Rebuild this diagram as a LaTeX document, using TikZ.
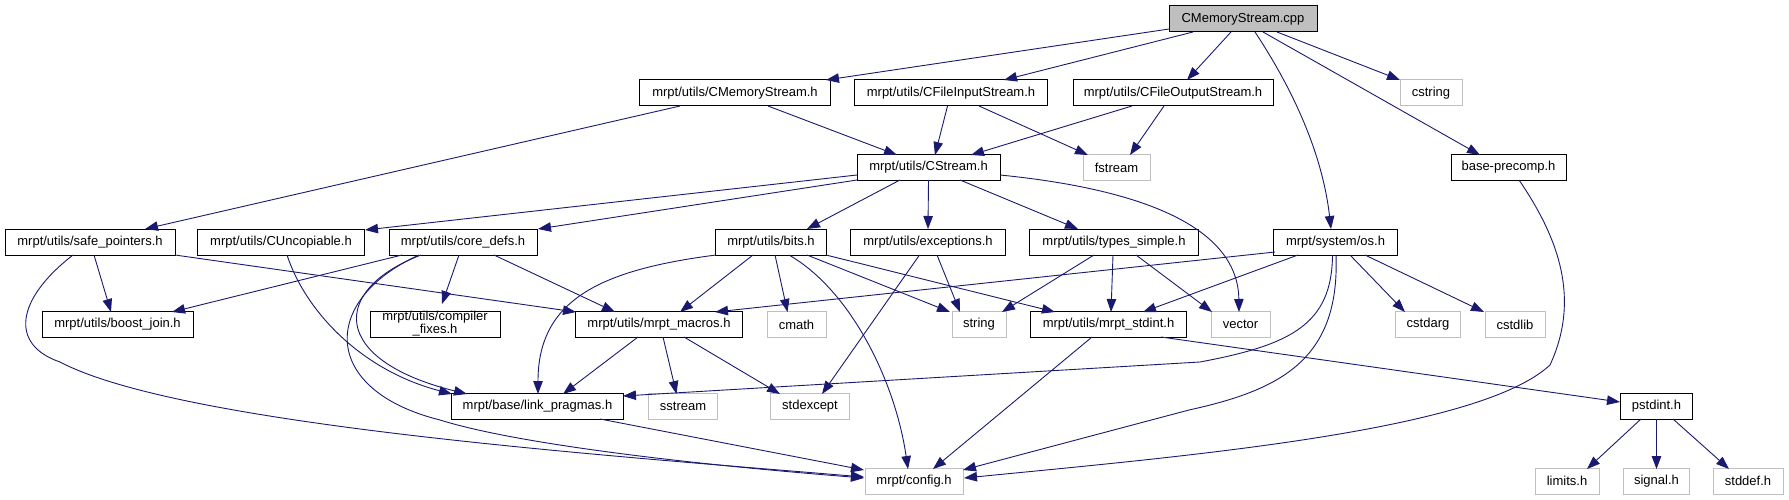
\documentclass[tikz,border=0pt]{standalone}
\usepackage{fontspec}
\setmainfont{Liberation Sans}
\usepackage{tikz}
\usetikzlibrary{arrows.meta,calc}
\usepackage{xcolor}
\definecolor{edge-blue}{HTML}{191970}
\definecolor{box-gray}{HTML}{BFBFBF}
\tikzstyle{hbox}=[draw=black, line width=1pt, inner sep=0pt, minimum height=26pt, align=center, font=\fontsize{13}{13}\selectfont]
\tikzstyle{sysbox}=[hbox, draw=box-gray]
\tikzstyle{rootbox}=[hbox, fill=box-gray]
\tikzstyle{incl}=[draw=edge-blue, line width=0.9pt, -{Triangle[length=13pt,width=9.5pt]}]
\newcommand{\hfile}[6]{
	\node[#1, minimum width=#5pt] (#2) at (#3,#4) {#6};
}
\newcommand{\depline}[4]{
	\draw[incl] ($(#1)+(#2)$) -- ($(#3)+(#4)$);
}

\begin{document}
\begin{tikzpicture}[x=1pt,y=-1pt]
	\useasboundingbox (0,0) rectangle (1789,500);
	\hfile{rootbox}{cpp}{1243}{19}{148}{CMemoryStream.cpp}
	\hfile{hbox}{memh}{735}{93}{191}{mrpt/utils/CMemoryStream.h}
	\hfile{hbox}{finh}{951}{93}{193}{mrpt/utils/CFileInputStream.h}
	\hfile{hbox}{fouth}{1173}{93}{200}{mrpt/utils/CFileOutputStream.h}
	\hfile{sysbox}{cstring}{1431}{93}{62}{cstring}
	\hfile{hbox}{stream}{928.5}{167.5}{143}{mrpt/utils/CStream.h}
	\hfile{sysbox}{fstream}{1116.5}{167.5}{67}{fstream}
	\hfile{hbox}{precomp}{1508.5}{167.5}{115}{base-precomp.h}
	\hfile{hbox}{safeptr}{90}{242}{170}{mrpt/utils/safe\_pointers.h}
	\hfile{hbox}{uncop}{281}{242}{167}{mrpt/utils/CUncopiable.h}
	\hfile{hbox}{coredefs}{463}{242}{148}{mrpt/utils/core\_defs.h}
	\hfile{hbox}{bits}{771}{242}{111}{mrpt/utils/bits.h}
	\hfile{hbox}{exc}{928}{242}{155}{mrpt/utils/exceptions.h}
	\hfile{hbox}{types}{1114}{242}{169}{mrpt/utils/types\_simple.h}
	\hfile{hbox}{os}{1335.5}{242}{124}{mrpt/system/os.h}
	\hfile{hbox}{boost}{117.5}{324.5}{151}{mrpt/utils/boost\_join.h}
	\hfile{hbox}{compfix}{435}{324}{130}{mrpt/utils/compiler\\\_fixes.h}
	\hfile{hbox}{macros}{659}{324.5}{167}{mrpt/utils/mrpt\_macros.h}
	\hfile{sysbox}{cmath}{796.5}{324.5}{59}{cmath}
	\hfile{sysbox}{string}{979}{324.5}{54}{string}
	\hfile{hbox}{stdint}{1108.5}{324.5}{156}{mrpt/utils/mrpt\_stdint.h}
	\hfile{sysbox}{vector}{1240.5}{324.5}{59}{vector}
	\hfile{sysbox}{cstdarg}{1428}{324.5}{65}{cstdarg}
	\hfile{sysbox}{cstdlib}{1515}{324.5}{60}{cstdlib}
	\hfile{hbox}{linkp}{537.5}{406.5}{172}{mrpt/base/link\_pragmas.h}
	\hfile{sysbox}{sstream}{683}{406.5}{69}{sstream}
	\hfile{sysbox}{stdexc}{810}{406.5}{79}{stdexcept}
	\hfile{hbox}{pstdint}{1656.5}{406.5}{72}{pstdint.h}
	\hfile{sysbox}{config}{914}{481}{98}{mrpt/config.h}
	\hfile{sysbox}{limits}{1567}{481}{64}{limits.h}
	\hfile{sysbox}{signal}{1656.5}{481}{66}{signal.h}
	\hfile{sysbox}{stddef}{1748}{481}{70}{stddef.h}
	\depline{cpp}{-74,10}{memh}{91,-13}
	\depline{cpp}{-50,13}{finh}{53,-13}
	\depline{cpp}{-12,13}{fouth}{14,-13}
	\depline{cpp}{34,13}{cstring}{-31,-13}
	\depline{cpp}{20,13}{precomp}{-28.5,-12.5}
	\draw[incl] ($(cpp)+(12,13)$) .. controls (1290,85) and (1322,150) .. ($(os)+(-4.5,-13)$);
	\depline{memh}{-55,13}{safeptr}{55,-13}
	\depline{memh}{33,13}{stream}{-31.5,-12.5}
	\depline{finh}{-3.5,13}{stream}{6.5,-12.5}
	\depline{finh}{28,13}{fstream}{-28.5,-12.5}
	\depline{fouth}{-41,13}{stream}{42.5,-12.5}
	\depline{fouth}{-9,13}{fstream}{13.5,-12.5}
	\draw[incl] ($(precomp)+(10.5,12.5)$) .. controls (1560,240) and (1580,300) .. (1550,365) .. controls (1480,430) and (1200,455) .. ($(config)+(50,-3)$);
	\depline{stream}{-71.5,7.5}{uncop}{84,-12}
	\depline{stream}{-71.5,12.5}{coredefs}{75,-13}
	\depline{stream}{-28.5,12.5}{bits}{36,-13}
	\depline{stream}{0,12.5}{exc}{0,-13}
	\depline{stream}{31.5,12.5}{types}{-36,-13}
	\draw[incl] ($(stream)+(71.5,7.5)$) .. controls (1150,190) and (1238,230) .. ($(vector)+(-1.5,-12.5)$);
	\depline{safeptr}{4,13}{boost}{-6.5,-12.5}
	\depline{safeptr}{85,13}{macros}{-83,-12.5}
	\draw[incl] ($(safeptr)+(-17,13)$) .. controls (15,300) and (10,345) .. (60,362) .. controls (180,425) and (600,455) .. ($(config)+(-50,-4)$);
	\draw[incl] ($(uncop)+(6,13)$) .. controls (305,310) and (360,370) .. ($(linkp)+(-85.5,-12.5)$);
	\depline{coredefs}{-61,13}{boost}{54.5,-12.5}
	\depline{coredefs}{-4,13}{compfix}{7,-20}
	\depline{coredefs}{31,13}{macros}{-44,-12.5}
	\draw[incl] ($(coredefs)+(-42,13)$) .. controls (330,290) and (330,360) .. ($(linkp)+(-70.5,-12.5)$);
	\draw[incl] ($(coredefs)+(-44,13)$) .. controls (320,300) and (320,390) .. (440,420) .. controls (520,445) and (700,465) .. ($(config)+(-50,-3)$);
	\draw[incl] ($(bits)+(-55,13)$) .. controls (600,270) and (538,300) .. ($(linkp)+(0.5,-12.5)$);
	\depline{bits}{-18,13}{macros}{21,-12.5}
	\depline{bits}{4,13}{cmath}{-9,-12.5}
	\draw[incl] ($(bits)+(18,13)$) .. controls (850,290) and (895,380) .. ($(config)+(-6,-12)$);
	\depline{bits}{36,13}{string}{-29,-12.5}
	\depline{bits}{55,13}{stdint}{-53.5,-12.5}
	\depline{exc}{9,13}{string}{-19,-12.5}
	\depline{exc}{-8.5,13}{stdexc}{12,-12.5}
	\depline{types}{-20,13}{string}{23,-12.5}
	\depline{types}{-1,13}{stdint}{2.5,-12.5}
	\depline{types}{22,13}{vector}{-28.5,-12.5}
	\depline{os}{-60.5,10}{macros}{56,-12.5}
	\depline{os}{-37.5,13}{stdint}{34.5,-12.5}
	\draw[incl] ($(os)+(-3,13)$) .. controls (1332,325) and (1290,345) .. (1200,362) -- ($(linkp)+(85.5,-10.5)$);
	\draw[incl] ($(os)+(0.5,13)$) .. controls (1340,360) and (1280,390) .. (1189,410) -- ($(config)+(49,-11)$);
	\depline{os}{14.5,13}{cstdarg}{-23,-12.5}
	\depline{os}{29.5,13}{cstdlib}{-31,-12.5}
	\depline{macros}{-21,12.5}{linkp}{25.5,-12.5}
	\depline{macros}{4,12.5}{sstream}{-6.5,-12.5}
	\depline{macros}{25,12.5}{stdexc}{-30,-12.5}
	\depline{stdint}{-16.5,12.5}{config}{19,-12}
	\depline{stdint}{52.5,12.5}{pstdint}{-36.5,-4.5}
	\depline{linkp}{62.5,12.5}{config}{-50,-11}
	\depline{pstdint}{-15.5,12.5}{limits}{20,-12}
	\depline{pstdint}{0,12.5}{signal}{0,-12}
	\depline{pstdint}{16.5,12.5}{stddef}{-19,-12}
\end{tikzpicture}
\end{document}
